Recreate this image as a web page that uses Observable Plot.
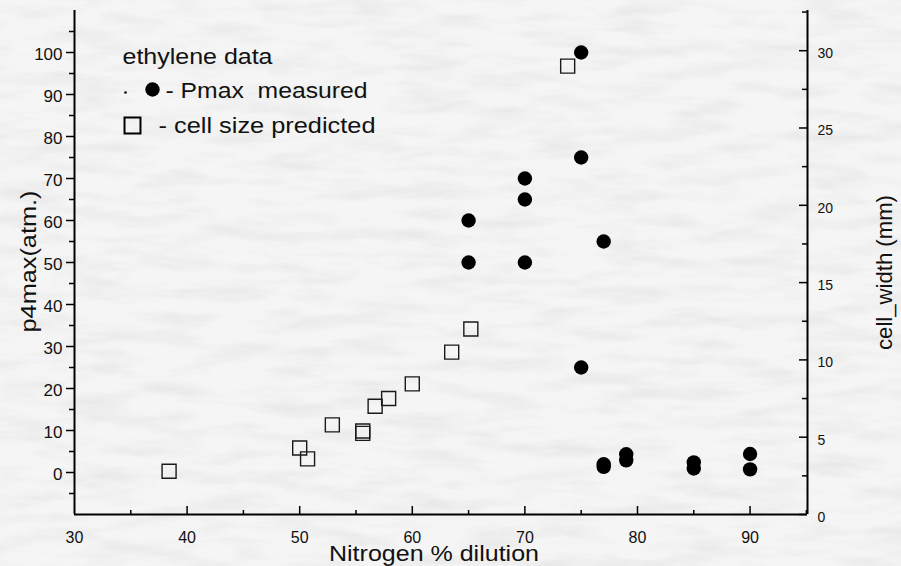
<!DOCTYPE html>
<html>
<head>
<meta charset="utf-8">
<script src="https://cdn.jsdelivr.net/npm/d3@7"></script>
<script src="https://cdn.jsdelivr.net/npm/@observablehq/plot@0.6"></script>
<style>
  html, body { margin: 0; padding: 0; background: #f3f3f3; }
  #wrap { position: relative; width: 901px; height: 566px; overflow: hidden; }
  #bg { position: absolute; left: 0; top: 0; }
  #chart { position: absolute; left: 0; top: 0; }
  #chart svg text { white-space: pre; }
</style>
</head>
<body>
<div id="wrap">
  <svg id="bg" width="901" height="566">
    <defs>
      <filter id="marble" x="0" y="0" width="100%" height="100%">
        <feTurbulence type="fractalNoise" baseFrequency="0.015 0.07" numOctaves="4" seed="7"/>
        <feColorMatrix type="matrix" values="0 0 0 0 0  0 0 0 0 0  0 0 0 0 0  -1.4 0 0 0 0.85"/>
      </filter>
    </defs>
    <rect width="901" height="566" fill="#f5f5f5"/>
    <rect width="901" height="566" fill="#000" filter="url(#marble)" opacity="0.07"/>
  </svg>
  <div id="chart"></div>
</div>
<script>
// ---- data ----
const pmaxX = [75, 75, 70, 70, 70, 65, 65, 77, 75, 77, 77, 79, 79, 85, 85, 90, 90];
const pmaxY = [100, 75, 70, 65, 50, 60, 50, 55, 25, 1.97, 1.35, 4.35, 2.9, 2.4, 0.95, 4.4, 0.75];

const cellX = [38.4, 50.0, 50.7, 52.9, 55.6, 55.6, 56.7, 57.9, 60.0, 63.5, 65.2, 73.8];
const cellW = [2.8, 4.3, 3.6, 5.8, 5.4, 5.25, 7.0, 7.5, 8.45, 10.5, 12.0, 29.0];

const xTickLabels = [30, 40, 50, 60, 70, 80, 90];
const xMajorTicks = [40, 50, 60, 70, 80, 90];
const xMinorTicks = [35, 45, 55, 65, 75, 85, 95];
const leftTickLabels = [0, 10, 20, 30, 40, 50, 60, 70, 80, 90, 100];
const leftMinorTicks = [-5, 5, 15, 25, 35, 45, 55, 65, 75, 85, 95, 105];
const rightTickLabels = [0, 5, 10, 15, 20, 25, 30];
const rightMinorTicks = [2.5, 7.5, 12.5, 17.5, 22.5, 27.5, 32.5];

const xTitle = "Nitrogen % dilution";
const yLeftTitle = "p4max(atm.)";
const yRightTitle = "cell_width (mm)";
const legendTitle = "ethylene data";
const legendPmax = "- Pmax  measured";
const legendCell = "- cell size predicted";

const xDomain = [30, 95.1];
const yDomain = [-10, 110];
const rightMax = 32.6;
const toLeft = cw => yDomain[0] + cw * (yDomain[1] - yDomain[0]) / rightMax;
const fromLeft = v => (v - yDomain[0]) * rightMax / (yDomain[1] - yDomain[0]);

// ---- layout ----
const W = 901, H = 566;
const mL = 74, mR = 94, mT = 10, mB = 52;
const fW = W - mL - mR, fH = H - mT - mB;
const font = "'Liberation Sans', Arial, Helvetica, sans-serif";

const pIdx = pmaxX.map((_, i) => i);
const cIdx = cellX.map((_, i) => i);

const txt = { textAnchor: "middle", lineAnchor: "middle", fontSize: 22, fill: "#111" };
const leg = { frameAnchor: "top-left", textAnchor: "start", lineAnchor: "middle", fontSize: 22, fill: "#111" };

const chart = Plot.plot({
  width: W, height: H,
  marginLeft: mL, marginRight: mR, marginTop: mT, marginBottom: mB,
  style: { fontFamily: font, background: "transparent", color: "#111", overflow: "visible" },
  x: { domain: xDomain },
  y: { domain: yDomain },
  marks: [
    // axis lines
    Plot.ruleY([yDomain[0]], { stroke: "#000", strokeWidth: 2 }),
    Plot.ruleX([xDomain[0]], { stroke: "#000", strokeWidth: 2 }),
    Plot.ruleX([xDomain[1]], { stroke: "#000", strokeWidth: 2 }),
    // bottom ticks (inward)
    Plot.tickX(xMajorTicks, { x: d => d, insetTop: fH - 8, stroke: "#000", strokeWidth: 1.5 }),
    Plot.tickX(xMinorTicks, { x: d => d, insetTop: fH - 4, stroke: "#000", strokeWidth: 1.5 }),
    // left ticks (outward)
    Plot.tickY(leftTickLabels, { y: d => d, insetRight: fW - 8, dx: -8, stroke: "#000", strokeWidth: 1.5 }),
    Plot.tickY(leftMinorTicks, { y: d => d, insetRight: fW - 5, dx: -5, stroke: "#000", strokeWidth: 1.5 }),
    // right ticks (inward)
    Plot.tickY(rightTickLabels.map(toLeft), { y: d => d, insetLeft: fW - 8, stroke: "#000", strokeWidth: 1.5 }),
    Plot.tickY(rightMinorTicks.map(toLeft), { y: d => d, insetLeft: fW - 5, stroke: "#000", strokeWidth: 1.5 }),
    // tick labels
    Plot.axisX(xTickLabels, { anchor: "bottom", tickSize: 0, tickPadding: 17, fontSize: 16, label: null }),
    Plot.axisY(leftTickLabels, { anchor: "left", tickSize: 0, tickPadding: 12, fontSize: 17, dy: 2, label: null }),
    Plot.axisY(rightTickLabels.map(toLeft), { anchor: "right", tickSize: 0, tickPadding: 10, fontSize: 14, dy: 3, label: null,
      tickFormat: v => String(Math.round(fromLeft(v))) }),
    // axis titles
    Plot.text([xTitle], { ...txt, frameAnchor: "bottom", dx: -7, dy: 39 }),
    Plot.text([yLeftTitle], { ...txt, frameAnchor: "left", rotate: -90, dx: -46, dy: -1 }),
    Plot.text([yRightTitle], { ...txt, frameAnchor: "right", rotate: -90, dx: 77, dy: 10 }),
    // data
    Plot.dot(cIdx, { x: i => cellX[i], y: i => toLeft(cellW[i]), symbol: "square", r: 7.9,
      fill: "none", stroke: "#1a1a1a", strokeWidth: 1.4 }),
    Plot.dot(pIdx, { x: i => pmaxX[i], y: i => pmaxY[i], r: 7.2, fill: "#000", stroke: "none" }),
    // legend
    Plot.text([legendTitle], { ...leg, dx: 48, dy: 46 }),
    Plot.dot([0], { frameAnchor: "top-left", dx: 51, dy: 82, r: 1.3, fill: "#000" }),
    Plot.dot([0], { frameAnchor: "top-left", dx: 78, dy: 79, r: 7.2, fill: "#000" }),
    Plot.text([legendPmax], { ...leg, dx: 91, dy: 80 }),
    Plot.dot([0], { frameAnchor: "top-left", dx: 58, dy: 115, symbol: "square", r: 9, fill: "none", stroke: "#000", strokeWidth: 2 }),
    Plot.text([legendCell], { ...leg, dx: 84, dy: 115 })
  ]
});

// stretch long texts to the measured widths of the reference
const targetLengths = new Map([
  [legendTitle, 150], [legendPmax, 202], [legendCell, 217],
  [xTitle, 210], [yLeftTitle, 142], [yRightTitle, 155]
]);
chart.querySelectorAll("text").forEach(t => {
  const L = targetLengths.get(t.textContent);
  if (L) {
    t.setAttribute("textLength", L);
    t.setAttribute("lengthAdjust", "spacingAndGlyphs");
  }
});

document.getElementById("chart").appendChild(chart);
</script>
</body>
</html>
